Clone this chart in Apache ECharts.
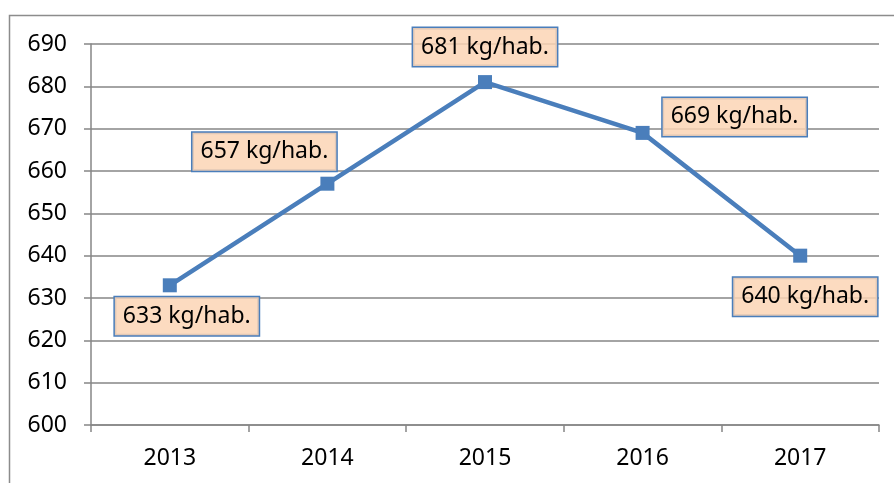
<!DOCTYPE html>
<html><head><meta charset="utf-8">
<script src="https://cdn.jsdelivr.net/npm/echarts@6/dist/echarts.min.js"></script>
<style>html,body{margin:0;padding:0;background:#fff}#c{width:894px;height:483px}</style>
</head><body><div id="c"></div>
<script>
const years = ['2013','2014','2015','2016','2017'];
const values = [633, 657, 681, 669, 640];
const labelTexts = ['633 kg/hab.','657 kg/hab.','681 kg/hab.','669 kg/hab.','640 kg/hab.'];
const labelOffsets = [[17,31],[-63,-32],[0,-35],[92,-16],[5,41]];

const chart = echarts.init(document.getElementById('c'));
const FONT = 'Noto Sans';
chart.setOption({
  animation: false,
  backgroundColor: '#fff',
  graphic: [{type:'rect', shape:{x:9.5,y:15.5,width:900,height:500}, style:{fill:'none',stroke:'#8c8c8c',lineWidth:1.5}, z:-1}],
  grid: {left:91, right:15, top:44, bottom:58},
  xAxis: {
    type:'category', data: years, boundaryGap:true,
    axisLine:{lineStyle:{color:'#868686',width:1.5}},
    axisTick:{show:true,length:7,lineStyle:{color:'#868686',width:1.5}},
    axisLabel:{color:'#000',fontFamily:FONT,fontSize:23,margin:22}
  },
  yAxis: {
    type:'value', min:600, max:690, interval:10,
    axisLine:{show:true,lineStyle:{color:'#868686',width:1.5}},
    axisTick:{show:true,length:7,lineStyle:{color:'#868686',width:1.5}},
    splitLine:{lineStyle:{color:'#868686',width:1.5}},
    axisLabel:{color:'#000',fontFamily:FONT,fontSize:23,margin:24}
  },
  series: [{
    type:'line',
    data: values.map((v,i)=>({value:v, label:{offset:labelOffsets[i], formatter:labelTexts[i]}})),
    lineStyle:{color:'#4A7EBB',width:4.5},
    itemStyle:{color:'#4A7EBB'},
    symbol:'rect', symbolSize:14,
    label:{
      show:true, position:'inside', color:'#000', fontFamily:FONT, fontSize:23,
      backgroundColor:'rgba(251,213,181,0.85)', borderColor:'#4A7EBB', borderWidth:1.5,
      padding:[8,8,7,8]
    },
    z:3
  }]
});
</script></body></html>
